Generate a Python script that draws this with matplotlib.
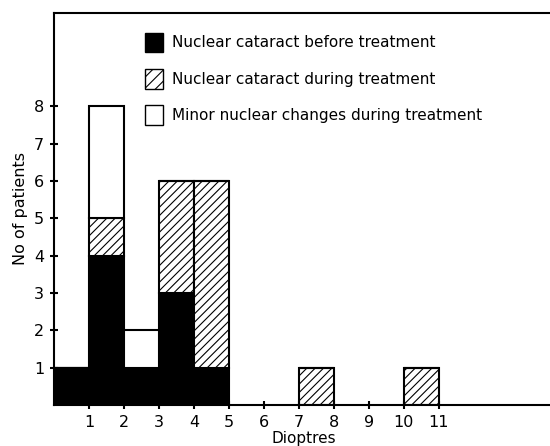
import matplotlib.pyplot as plt
from matplotlib.patches import Patch

# Dioptre bins (left edges, width 1)
dioptres = [0, 1, 2, 3, 4, 7, 10]
before = [1, 4, 1, 3, 1, 0, 0]   # nuclear cataract before treatment
during = [0, 1, 0, 3, 5, 1, 1]   # nuclear cataract during treatment
minor = [0, 3, 1, 0, 0, 0, 0]    # minor nuclear changes during treatment

labels = ["Nuclear cataract before treatment",
          "Nuclear cataract during treatment",
          "Minor nuclear changes during treatment"]

plt.rcParams['hatch.linewidth'] = 0.8
plt.rcParams['font.family'] = ['DejaVu Sans']

fig = plt.figure(figsize=(5.5, 4.46), dpi=100)
ax = fig.add_axes([0.098, 0.092, 0.91, 0.879])

bottom2 = [a + b for a, b in zip(before, during)]
ax.bar(dioptres, before, width=1, align='edge', color='black',
       edgecolor='black', linewidth=1.5)
ax.bar(dioptres, during, width=1, align='edge', bottom=before, color='white',
       edgecolor='black', hatch='////', linewidth=1.5)
ax.bar(dioptres, minor, width=1, align='edge', bottom=bottom2, color='white',
       edgecolor='black', linewidth=1.5)

ax.set_xlim(0, 14.3)
ax.set_ylim(0, 10.5)
ax.set_xticks(range(1, 12))
ax.set_yticks(range(1, 9))
ax.tick_params(direction='inout', length=6, width=1.5, labelsize=11.5, pad=4)
for s in ax.spines.values():
    s.set_linewidth(1.5)
ax.spines['right'].set_visible(False)

ax.set_xlabel("Dioptres", fontsize=11, labelpad=1)
ax.set_ylabel("No of patients", fontsize=11.5, labelpad=4)

handles = [Patch(facecolor='black', edgecolor='black'),
           Patch(facecolor='white', edgecolor='black', hatch='///'),
           Patch(facecolor='white', edgecolor='black')]
ax.legend(handles, labels, loc='upper left', bbox_to_anchor=(0.155, 0.985),
          frameon=False, fontsize=11, handlelength=1.15, handleheight=1.6,
          labelspacing=1.1, handletextpad=0.6)

fig.savefig("out.png", dpi=100)
